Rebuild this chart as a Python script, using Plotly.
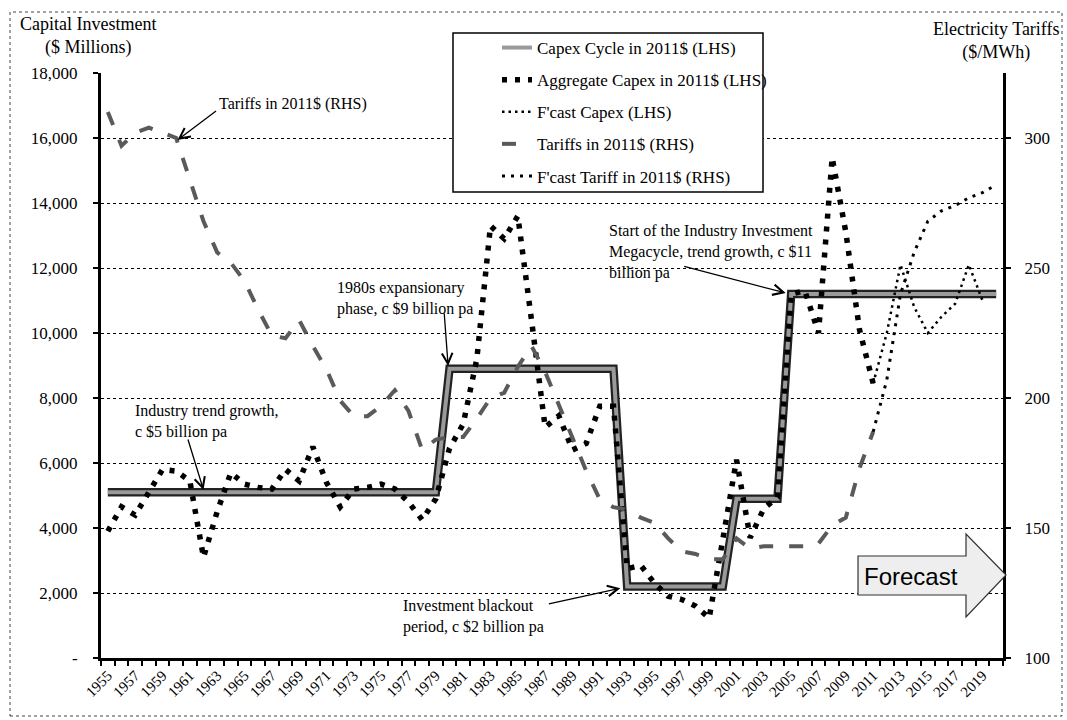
import plotly.graph_objects as go

# ---------------- data ----------------
years = list(range(1955, 2021))

capex_cycle = [5100, 5100, 5100, 5100, 5100, 5100, 5100, 5100, 5100, 5100,
               5100, 5100, 5100, 5100, 5100, 5100, 5100, 5100, 5100, 5100,
               5100, 5100, 5100, 5100, 5100, 8900, 8900, 8900, 8900, 8900,
               8900, 8900, 8900, 8900, 8900, 8900, 8900, 8900, 2200, 2200,
               2200, 2200, 2200, 2200, 2200, 2200, 4900, 4900, 4900, 4900,
               11200, 11200, 11200, 11200, 11200, 11200, 11200, 11200, 11200, 11200,
               11200, 11200, 11200, 11200, 11200, 11200]

agg_years = list(range(1955, 2012))
agg_capex = [3900, 4650, 4400, 5100, 5800, 5750, 5450, 3100, 4500, 5700,
             5350, 5250, 5200, 5800, 5450, 6500, 5400, 4650, 5200, 5250,
             5350, 5200, 4800, 4250, 4900, 6450, 7200, 9200, 13300, 12900,
             13600, 10400, 7100, 7450, 6400, 6600, 7750, 7750, 2750, 2850,
             2300, 1900, 1800, 1600, 1230, 3650, 6100, 3700, 4600, 4950,
             11200, 11300, 10000, 15400, 13100, 10100, 8450]

fc_capex_years = list(range(2011, 2020))
fc_capex = [8450, 10000, 12100, 10800, 10000, 10500, 10900, 12100, 11000]

tariff_years = list(range(1955, 2012))
tariffs = [310, 297, 302, 304, 302, 300, 284, 268, 256, 252,
           245, 234, 224, 223, 230, 220, 211, 199, 193, 193,
           197, 203, 195, 180, 184, 185, 185, 192, 200, 202,
           212, 220, 210, 197, 184, 172, 161, 158, 157, 154,
           152, 146, 141, 140, 138, 138, 146, 142, 143, 143,
           143, 143, 144, 151, 154, 173, 187]

fc_tariff_years = list(range(2011, 2021))
fc_tariff = [187, 207, 240, 256, 268, 272, 274, 277, 279, 282]

x_ticks = list(range(1955, 2020, 2))
y_ticks = [0, 2000, 4000, 6000, 8000, 10000, 12000, 14000, 16000, 18000]
y_ticktext = ["-", "2,000", "4,000", "6,000", "8,000", "10,000", "12,000",
              "14,000", "16,000", "18,000"]
y2_ticks = [100, 150, 200, 250, 300]

SERIF = "Liberation Serif"

fig = go.Figure()

# Capex cycle: dark outline + grey core
fig.add_trace(go.Scatter(x=years, y=capex_cycle, mode="lines",
                         line=dict(color="#222222", width=8.5),
                         legendgroup="cycle", showlegend=False, hoverinfo="skip"))
fig.add_trace(go.Scatter(x=years, y=capex_cycle, mode="lines",
                         name="Capex Cycle in 2011$ (LHS)",
                         line=dict(color="#9a9a9a", width=4),
                         legendgroup="cycle"))
fig.add_trace(go.Scatter(x=agg_years, y=agg_capex, mode="lines",
                         name="Aggregate Capex in 2011$ (LHS)",
                         line=dict(color="black", width=5.5, dash="5px,8px"),
                         legendgroup="agg"))
fig.add_trace(go.Scatter(x=fc_capex_years, y=fc_capex, mode="lines",
                         name="F'cast Capex (LHS)",
                         line=dict(color="black", width=2.5, dash="2.5px,4px"),
                         legendgroup="fcc"))
fig.add_trace(go.Scatter(x=tariff_years, y=tariffs, mode="lines",
                         name="Tariffs in 2011$ (RHS)", yaxis="y2",
                         line=dict(color="#5a5a5a", width=4, dash="14px,16px"),
                         legendgroup="tar"))
fig.add_trace(go.Scatter(x=fc_tariff_years, y=fc_tariff, mode="lines",
                         name="F'cast Tariff in 2011$ (RHS)", yaxis="y2",
                         line=dict(color="black", width=3, dash="3px,6px"),
                         legendgroup="fct"))

L, R, T, B = 101, 64, 73, 62
W, H = 1067, 720
PW, PH = W - L - R, H - T - B


def px(xp):
    return (xp - L) / PW


def py(yp):
    return (H - B - yp) / PH


shapes = []
# outer dotted frame
shapes.append(dict(type="rect", xref="paper", yref="paper",
                   x0=px(10), x1=px(1062), y0=py(716), y1=py(12),
                   line=dict(color="#444", width=1, dash="dot"), layer="below"))
# legend box
shapes.append(dict(type="rect", xref="paper", yref="paper",
                   x0=px(453), x1=px(763), y0=py(192), y1=py(33),
                   line=dict(color="black", width=1.5), fillcolor="white", layer="above"))
# forecast block arrow
pts = [(858, 556), (966, 556), (966, 534), (1006, 575), (966, 617), (966, 595), (858, 595)]
path = "M " + " L ".join(f"{px(a):.5f},{py(b):.5f}" for a, b in pts) + " Z"
shapes.append(dict(type="path", xref="paper", yref="paper", path=path,
                   fillcolor="#eeeeee", line=dict(color="#333", width=1.2)))

annotations = []


def txt(xp, yp, text, size=16, xanchor="left", yanchor="middle", align="left", family=SERIF):
    annotations.append(dict(xref="paper", yref="paper", x=px(xp), y=py(yp), text=text,
                            showarrow=False, xanchor=xanchor, yanchor=yanchor, align=align,
                            font=dict(family=family, size=size, color="black")))


def arrow(xv, yv, ax, ay):
    annotations.append(dict(x=xv, y=yv, xref="x", yref="y", ax=ax, ay=ay,
                            axref="pixel", ayref="pixel", text="", showarrow=True,
                            arrowhead=5, arrowsize=1.6, arrowwidth=1.3, arrowcolor="black"))


txt(88, 36, "Capital Investment<br>($ Millions)", size=18, xanchor="center", align="center")
txt(1062, 41, "Electricity Tariffs<br>($/MWh)", size=18, xanchor="right", align="center")
txt(217, 104, "Tariffs in 2011$ (RHS)")
txt(335, 298, "1980s expansionary<br>phase, c $9 billion pa")
txt(133, 421, "Industry trend growth,<br>c $5 billion pa")
txt(607, 252, "Start of the Industry Investment<br>Megacycle, trend growth, c $11<br>billion pa")
txt(401, 616, "Investment blackout<br>period, c $2 billion pa")
txt(911, 576, "Forecast", size=24, xanchor="center", family="Liberation Sans")

arrow(1960.1, 15940, 40, -30)
arrow(1979.9, 8985, -4, -54)
arrow(1962.0, 5170, -16, -52)
arrow(2004.6, 11230, -103, -27)
arrow(1992.5, 2150, -73, 16)

fig.update_layout(
    width=W, height=H,
    margin=dict(l=L, r=R, t=T, b=B, autoexpand=False),
    paper_bgcolor="white", plot_bgcolor="white",
    font=dict(family=SERIF, size=17, color="black"),
    showlegend=True,
    legend=dict(x=px(497), y=py(30), xanchor="left", yanchor="top",
                bgcolor="rgba(0,0,0,0)", borderwidth=0,
                traceorder="grouped", tracegroupgap=7,
                font=dict(family=SERIF, size=17, color="black")),
    xaxis=dict(range=[1954.5, 2020.5], tickvals=x_ticks, tickangle=-45,
               showgrid=False, zeroline=False, showline=True, linecolor="black",
               linewidth=3, ticks="", tickfont=dict(family=SERIF, size=15),
               automargin=False,
               minor=dict(tick0=1954.5, dtick=1, ticks="outside", ticklen=5,
                          tickcolor="black", tickwidth=1.5, showgrid=False)),
    yaxis=dict(range=[0, 18000], tickvals=y_ticks, ticktext=y_ticktext,
               showgrid=True, gridcolor="black", gridwidth=1, griddash="dot",
               zeroline=False, showline=True, linecolor="black", linewidth=3,
               ticks="outside", ticklen=5, tickwidth=1.5, tickcolor="black",
               automargin=False,
               ticklabelstandoff=12, tickfont=dict(family=SERIF, size=17)),
    yaxis2=dict(range=[100, 325], tickvals=y2_ticks, overlaying="y", side="right",
                showgrid=False, zeroline=False, showline=True, linecolor="black",
                linewidth=3, ticks="outside", ticklen=5, tickwidth=1.5, tickcolor="black",
                automargin=False,
                ticklabelstandoff=10, tickfont=dict(family=SERIF, size=17)),
    shapes=shapes,
    annotations=annotations,
)

fig.write_html("out.html", config={"displayModeBar": False},
               post_script="document.body.style.margin='0';document.body.style.overflow='hidden';")
